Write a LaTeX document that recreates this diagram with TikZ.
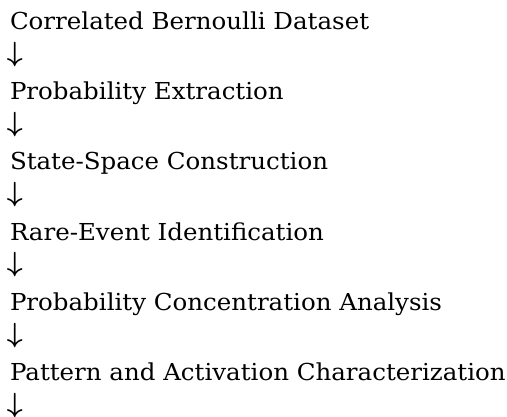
\documentclass[tikz,border=0pt]{standalone}
\usepackage{fontspec}
\setmainfont{DejaVu Serif}[FakeStretch=1.05]
\begin{document}
\begin{tikzpicture}[x=0.75pt,y=-0.75pt,
  lbl/.style={anchor=base west,inner sep=0pt,outer sep=0pt,font=\fontsize{17.5}{20}\selectfont},
  arr/.style={anchor=base west,inner sep=0pt,outer sep=0pt,font=\fontsize{21}{24}\selectfont\boldmath}]
\useasboundingbox (0,0) rectangle (507,417);
\fill[white] (0,0) rectangle (507,417);
\node[lbl] (t1) at (10,30) {Correlated Bernoulli Dataset};
\node[arr] (a1) at (7,62) {$\downarrow$};
\node[lbl] (t2) at (10,100) {Probability Extraction};
\node[arr] (a2) at (7,132) {$\downarrow$};
\node[lbl] (t3) at (10,170) {State-Space Construction};
\node[arr] (a3) at (7,202) {$\downarrow$};
\node[lbl] (t4) at (10,240) {Rare-Event Identification};
\node[arr] (a4) at (7,272) {$\downarrow$};
\node[lbl] (t5) at (10,310) {Probability Concentration Analysis};
\node[arr] (a5) at (7,342) {$\downarrow$};
\node[lbl] (t6) at (10,380) {Pattern and Activation Characterization};
\node[arr] (a6) at (7,412) {$\downarrow$};
\end{tikzpicture}
\end{document}
